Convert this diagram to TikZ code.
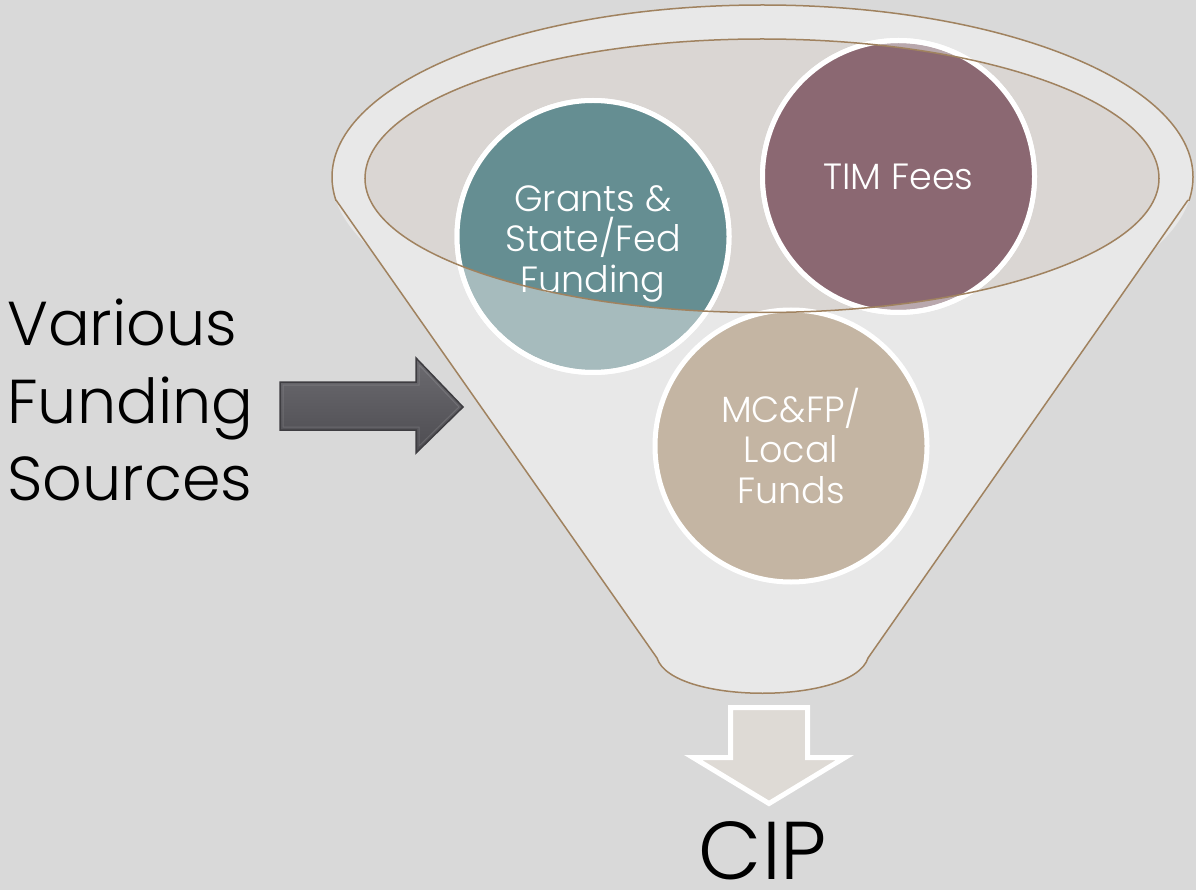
\documentclass[tikz,border=0pt]{standalone}
\usepackage{fontspec}
\setmainfont{Poppins Light}
\definecolor{cBg}{HTML}{D9D9D9}
\definecolor{cFunnel}{HTML}{E8E8E8}
\definecolor{cMouth}{HTML}{DAD6D3}
\definecolor{cRim}{HTML}{A0825F}
\definecolor{cTeal}{HTML}{658E92}
\definecolor{cPlum}{HTML}{8B6872}
\definecolor{cTan}{HTML}{C4B5A3}
\definecolor{cDown}{HTML}{DEDAD5}
\definecolor{cDarkA}{HTML}{6C6B70}
\definecolor{cDarkB}{HTML}{4D4C51}
\definecolor{cDarkLine}{HTML}{3E3D41}
\begin{document}
\begin{tikzpicture}[x=1pt,y=-1pt,
  ring/.style={draw=white, line width=5pt},
  bubble/.style={circle, minimum size=272pt, inner sep=0pt, ring},
  bubbletext/.style={text=white, font=\fontsize{36.5}{40.5}\selectfont, align=center},
  rimline/.style={draw=cRim, line width=1.5pt},
  bigtext/.style={text=black, inner sep=0pt, font=\fontsize{62}{77}\selectfont},
]
\fill[cBg] (0,0) rectangle (1196,890);
\useasboundingbox (0,0) rectangle (1196,890);
% funnel body
\fill[cFunnel] (762.5,177) ellipse[x radius=430.5, y radius=172];
\fill[cFunnel] (336,200) -- (657,658) .. controls (672,705) and (853,705) .. (868,658) -- (1188,200) -- cycle;
% funnel mouth
\begin{scope}
  \clip (0,-10) rectangle (1196,178.5);
  \fill[cMouth] (762,178.5) ellipse[x radius=397, y radius=139.5];
\end{scope}
\begin{scope}
  \clip (0,178) rectangle (1196,890);
  \fill[cMouth] (762,178.5) ellipse[x radius=397, y radius=134];
\end{scope}
% outer rim
\begin{scope}
  \clip (0,-10) rectangle (1196,200.5);
  \draw[rimline] (762.5,177) ellipse[x radius=430.5, y radius=172];
\end{scope}
\draw[rimline, line join=round] (336,200) -- (657,658) .. controls (672,705) and (853,705) .. (868,658) -- (1188,200);
% bubbles (washed where outside the mouth)
\node[bubble, fill=cTeal!50!cFunnel] (grants) at (593,236.5) {};
\node[bubble, fill=cPlum!50!cFunnel] (tim) at (898.5,176.5) {};
\begin{scope}
  \clip (0,-10) rectangle (1196,178.5);
  \clip (762,178.5) ellipse[x radius=397, y radius=139.5];
  \fill[cTeal] (grants.center) circle[radius=136];
  \fill[cPlum] (tim.center) circle[radius=136];
\end{scope}
\begin{scope}
  \clip (0,178) rectangle (1196,890);
  \clip (762,178.5) ellipse[x radius=397, y radius=134];
  \fill[cTeal] (grants.center) circle[radius=136];
  \fill[cPlum] (tim.center) circle[radius=136];
\end{scope}
\draw[ring] (grants.center) circle[radius=136];
\draw[ring] (tim.center) circle[radius=136];
\node[bubbletext, yshift=-7pt] (grantsText) at (grants.center) {Grants \&\\State/Fed\\Funding};
\node[bubbletext] (timText) at (tim.center) {TIM Fees};
\node[bubble, fill=cTan, bubbletext] (mc) at (791,446) {MC\&FP/\\Local\\Funds};
% inner rim line
\begin{scope}
  \clip (0,-10) rectangle (1196,178.5);
  \draw[rimline] (762,178.5) ellipse[x radius=397, y radius=139.5];
\end{scope}
\begin{scope}
  \clip (0,178.5) rectangle (1196,890);
  \draw[rimline] (762,178.5) ellipse[x radius=397, y radius=134];
\end{scope}
% right arrow
\shade[top color=cDarkA, bottom color=cDarkB, draw=cDarkLine, line width=1.5pt, line join=miter]
  (280,382) -- (416,382) -- (416,358) -- (463,407) -- (416,453) -- (416,430) -- (280,430) -- cycle;
\draw[white, opacity=0.12, line width=1pt]
  (283,385) -- (419,385) -- (419,365) -- (459,407) -- (419,446) -- (419,427) -- (283,427) -- cycle;
% down arrow
\draw[white, line width=5pt, fill=cDown, line join=miter]
  (730.5,707.5) -- (807.5,707.5) -- (807.5,757.5) -- (845,757.5) -- (769,803.5) -- (693,757.5) -- (730.5,757.5) -- cycle;
% texts
\node[bigtext, anchor=base west] (l1) at (7,345) {Various};
\node[bigtext, anchor=base west] (l2) at (7,423) {Funding};
\node[bigtext, anchor=base west] (l3) at (7,500) {Sources};
\node[text=black, inner sep=0pt, anchor=base, font=\fontsize{82}{86}\selectfont] (cip) at (763,879) {CIP};
\end{tikzpicture}
\end{document}
